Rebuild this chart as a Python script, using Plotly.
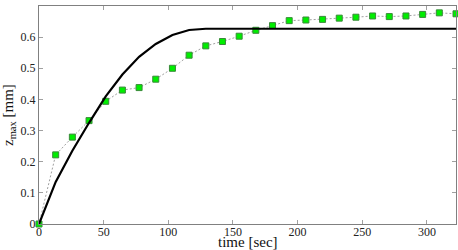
import plotly.graph_objects as go

time_pts = [0, 12.9, 25.8, 38.7, 51.6, 64.5, 77.4, 90.3, 103.2, 116.1, 129.0, 141.9, 154.8,
            167.7, 180.6, 193.5, 206.4, 219.3, 232.2, 245.1, 258.0, 270.9, 283.8, 296.7, 309.6, 322.5]
z_meas = [0.0, 0.222, 0.279, 0.332, 0.394, 0.430, 0.438, 0.465, 0.500, 0.542, 0.572, 0.586, 0.603,
          0.622, 0.637, 0.653, 0.655, 0.657, 0.661, 0.664, 0.668, 0.666, 0.668, 0.673, 0.678, 0.675]
z_model = [0.0, 0.135, 0.235, 0.325, 0.410, 0.480, 0.537, 0.578, 0.607, 0.623, 0.627, 0.627, 0.627,
           0.627, 0.627, 0.627, 0.627, 0.627, 0.627, 0.627, 0.627, 0.627, 0.627, 0.627, 0.627, 0.627]
x_ticks = [0, 50, 100, 150, 200, 250, 300]
y_ticks = [0, 0.1, 0.2, 0.3, 0.4, 0.5, 0.6, 0.7]
y_tick_text = ["0", "0.1", "0.2", "0.3", "0.4", "0.5", "0.6", "0.7"]

SERIF = "Liberation Serif"

fig = go.Figure()
fig.add_trace(go.Scatter(
    x=time_pts, y=z_meas, mode="lines+markers",
    line=dict(color="#a0a0a0", width=1, dash="2px,2px"),
    marker=dict(symbol="square", size=6, color="#00ee00",
                line=dict(color="#3a8a3a", width=1)),
    showlegend=False, cliponaxis=False))
fig.add_trace(go.Scatter(
    x=time_pts, y=z_model, mode="lines",
    line=dict(color="black", width=2.2),
    showlegend=False))

axis_common = dict(
    showline=True, linecolor="#808080", linewidth=1, mirror="ticks",
    ticks="inside", ticklen=4, tickcolor="#a0a0a0", tickwidth=1,
    showgrid=False, zeroline=False, automargin=False,
    tickfont=dict(family=SERIF, size=12, color="#222"),
)
fig.update_xaxes(range=[0, 322.5], tickvals=x_ticks, ticklabelstandoff=-3, **axis_common)
fig.update_yaxes(range=[0, 0.7], tickvals=y_ticks, ticktext=y_tick_text,
                 ticklabelstandoff=0, **axis_common)
fig.add_annotation(text="time [sec]", xref="paper", yref="paper", x=0.5, y=0,
                   yshift=-18, yanchor="middle", showarrow=False,
                   font=dict(family=SERIF, size=15, color="#111"))
fig.add_annotation(text="z<sub>max</sub> [mm]", xref="paper", yref="paper", x=0, y=0.5,
                   xshift=-30, xanchor="center", yanchor="middle", textangle=-90,
                   showarrow=False, font=dict(family=SERIF, size=15, color="#111"))
fig.update_layout(
    width=458, height=250,
    margin=dict(l=39, r=2, t=6, b=26, autoexpand=False),
    paper_bgcolor="white", plot_bgcolor="white",
)
fig.write_html("out.html", config={"displayModeBar": False},
               post_script="document.body.style.margin='0';document.body.style.padding='0';")
